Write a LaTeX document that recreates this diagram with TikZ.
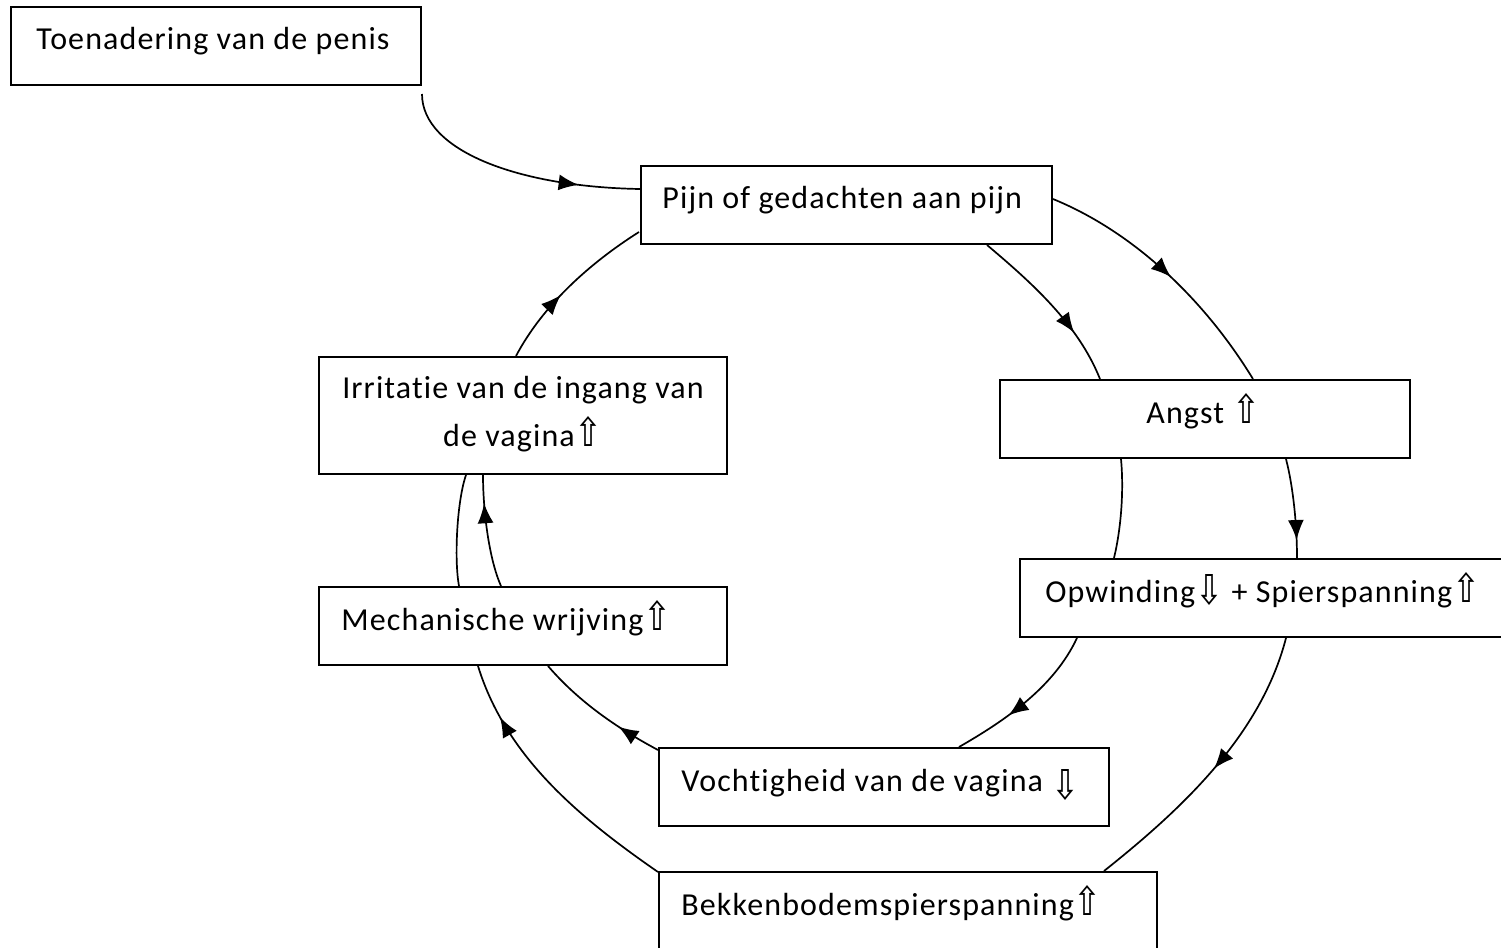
\documentclass[tikz,border=0pt]{standalone}
\usepackage{fontspec}
\setmainfont{Carlito}[LetterSpace=3.5,Ligatures=NoCommon]
\newfontfamily\arrfont{DejaVu Sans}
\usetikzlibrary{calc,arrows.meta,decorations.markings}
\newcommand\upar{\resizebox{14pt}{15pt}{\arrfont ⇧}}
\newcommand\dnar{\raisebox{-1pt}{\resizebox{14pt}{15pt}{\arrfont ⇩}}}
\newcommand\dnarb{\raisebox{-4pt}{\resizebox{14pt}{15pt}{\arrfont ⇩}}}
\begin{document}
\begin{tikzpicture}[x=0.5pt,y=-0.5pt,
  box/.style={draw,line width=1pt,inner sep=0pt,minimum height=39pt},
  lbl/.style={inner sep=0pt,anchor=base west},
  conn/.style={line width=0.85pt},
  midarrow/.style={postaction={decorate},decoration={markings,mark=at position #1 with {\arrow{Latex[length=10pt,width=8pt]}}}},
  font=\fontsize{16pt}{24pt}\selectfont]
\path[use as bounding box,fill=white] (0,0) rectangle (1501,948);

\node[box,minimum width=205pt] (toe) at (216,46) {};
\node[box,minimum width=205.5pt] (pijn) at (846.5,205) {};
\node[box,minimum width=205pt] (angst) at (1205,419) {};
\node[box,minimum width=241.5pt] (opw) at (1261.5,598) {};
\node[box,minimum width=204pt,minimum height=58.5pt] (irr) at (523,415.5) {};
\node[box,minimum width=204pt] (mech) at (523,626) {};
\node[box,minimum width=225pt] (voch) at (884,787) {};
\node[box,minimum width=249pt] (bek) at (908,911) {};

\node[lbl] (toeL) at ($(toe.north west)+(26,43)$) {Toenadering van de penis};
\node[lbl] (pijnL) at ($(pijn.north west)+(22,43)$) {Pijn of gedachten aan pijn};
\node[lbl] (angstL) at ($(angst.north west)+(147,44)$) {Angst \upar};
\node[lbl] (opwL) at ($(opw.north west)+(26,44)$) {Opwinding\dnar{} + Spierspanning\upar};
\node[inner sep=0pt,anchor=base,align=center] (irrL) at ($(irr.north)+(0,90)$) {Irritatie van de ingang van\\de vagina\upar};
\node[lbl] (mechL) at ($(mech.north west)+(23,44)$) {Mechanische wrijving\upar};
\node[lbl] (vochL) at ($(voch.north west)+(23,44)$) {Vochtigheid van de vagina \dnarb};
\node[lbl] (bekL) at ($(bek.north west)+(23,44)$) {Bekkenbodemspierspanning\upar};

\draw[conn,midarrow=0.76] ($(toe.south east)+(0,8)$) .. controls +(0,57) and +(-121,-2) .. ($(pijn.north west)+(0,24)$);
\draw[conn,midarrow=0.7] ($(pijn.south west)+(347,0)$) .. controls +(45,38) and +(-22,-55) .. ($(angst.north west)+(101,0)$);
\draw[conn,midarrow=0.52] ($(pijn.north east)+(0,34)$) .. controls +(83,34) and +(-47,-77) .. ($(angst.north west)+(254,0)$);
\draw[conn] ($(angst.south west)+(122,0)$) .. controls +(3,32) and +(7,-29) .. ($(opw.north west)+(95,0)$);
\draw[conn,midarrow=0.82] ($(angst.south west)+(287,0)$) .. controls +(7,27) and +(0,-34) .. ($(opw.north west)+(278,0)$);
\draw[conn,midarrow=0.64] ($(opw.south west)+(58,0)$) .. controls +(-23,49) and +(47,-27) .. ($(voch.north west)+(301,0)$);
\draw[conn,midarrow=0.5] ($(opw.south west)+(267,0)$) .. controls +(-25,97) and +(78,-62) .. ($(bek.north west)+(446,0)$);
\draw[conn,midarrow=0.33] ($(voch.north west)+(0,3)$) .. controls +(-41,-22) and +(31,36) .. ($(mech.south west)+(230,0)$);
\draw[conn,midarrow=0.8] ($(bek.north west)+(0,1)$) .. controls +(-78,-54) and +(28,91) .. ($(mech.south west)+(160,0)$);
\draw[conn] ($(mech.north west)+(141,0)$) .. controls +(-5,-27) and +(-9,26) .. ($(irr.south west)+(148,0)$);
\draw[conn,midarrow=0.75] ($(mech.north west)+(183,0)$) .. controls +(-12,-27) and +(0,36) .. ($(irr.south west)+(165,0)$);
\draw[conn,midarrow=0.43] ($(irr.north west)+(198,0)$) .. controls +(27,-51) and +(-49,31) .. ($(pijn.north west)+(-1,67)$);
\end{tikzpicture}
\end{document}
